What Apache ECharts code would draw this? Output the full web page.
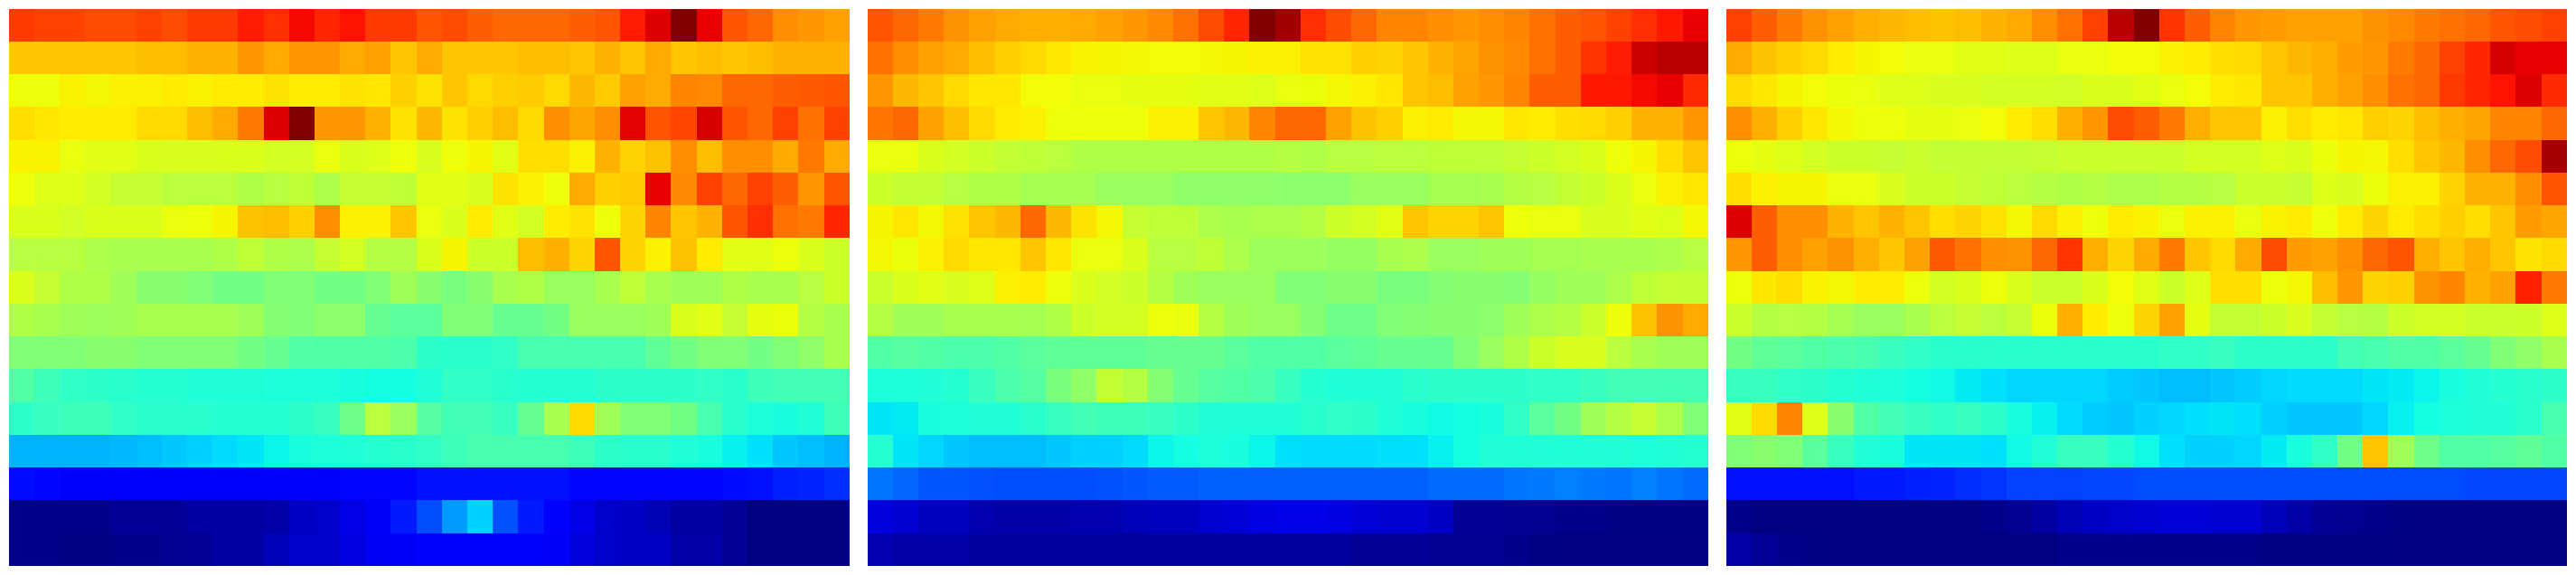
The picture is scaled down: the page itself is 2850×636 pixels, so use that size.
<!DOCTYPE html>
<html>
<head>
<meta charset="utf-8">
<script src="https://cdn.jsdelivr.net/npm/echarts@6/dist/echarts.min.js"></script>
<style>html,body{margin:0;padding:0;background:#fff}#c{width:2850px;height:636px}#c svg *{shape-rendering:crispEdges}</style>
</head>
<body>
<div id="c"></div>
<script>
const panelLeft = [
[85,84,84,83,83,84,83,85,85,88,86,90,87,89,85,85,82,83,81,80,80,80,81,82,88,92,100,91,82,80,76,75,74],
[70,70,70,70,70,71,71,72,72,75,73,75,75,73,74,70,73,70,70,70,71,71,70,72,70,73,70,71,70,71,72,72,72],
[63,63,65,64,65.5,65.5,66,65,66,66,67,66,66,67,66.5,69,67,70,68,69,69.5,68,71.5,69.5,74,73,77,76.5,80,80,81,81.5,82],
[67.5,66.5,66,66,66,68,68,71,73,78,92,100,75,75,72,67,71.5,67,69,71,68,76,73.5,76,91.5,82,83.5,92.5,82,80,84,79,84],
[65,65,62,61,61,60,59.5,59.5,60,60,59,59,62,60,60.5,63,59.5,63,64.5,61,67.5,67.5,65.5,72,68.5,70.5,76,71,76,76,73,78,73],
[63,60.5,60.5,59,57,57,55.5,55.5,55.5,54,55,56,53.5,57,57,56,61,61,59.5,67,65.5,63,73,69,69.5,91,76.5,84,80,84,81,75,82],
[60,60,58.5,60,60,60,62,63,64.5,70.5,71,69,76,65.5,65.5,70,62,60,66,61,59,66,67,63,68.5,77,70,72,82,86,79,78,87],
[55,55,55,53.5,53,53,53,53,54,56,54,53.5,57,59,54.5,54.5,60,64.5,58,58,71,72.5,68.5,82,68.5,65.5,70.5,66,61,61,63,60,58],
[60,57,54,54,52,49,49,48,47,47,48,48,47,47,48,52,49,47.5,49,53,54,51,51,53,56,53,52,52,54,53,53,55,58],
[54,53,52,51.5,52,53,53,53,53,52,48.5,48,49.5,49.5,46,45,45,48,48,46,46,47,51,51,51,52,60,61,57,61.5,62.5,54.5,53],
[48,48,48,49,49,48,48,48,48,47,46,44,44,44,44,43.5,40.5,40,40,41,43,43,43,43,43,45.5,47,48,48,47,48,50,53],
[44,42,41,40.5,40,39.5,39.5,39,39,39,38.5,38.5,38.5,38,37.5,37.5,39,41,41,40,39.5,39.5,39.5,40.5,40.5,40.5,40.5,41,40,42,42.5,42.5,42.5],
[40.5,41.5,42,42,41,40,40,40,39.5,39.5,39.5,40.5,41.5,46.5,55.5,51,44.5,42.5,42.5,41.5,46,53,68,52,48,48,47,43,40,38.5,38,39,42],
[30,30,30,30,30.5,31,32,33,34,35,36.5,38,38.5,39,39.5,40,41,42,43,43,43,43,42,40.5,40,40,39,38,36,34.5,32,31,30],
[13.5,13,12.5,12.5,12,12,12,12,12,12,12,12,12,13,13,13,14,14,14,14,14,14,13,13,13,13,13,13,13.5,14,15.5,16,17],
[1,1,1,1,2,2,2,3,3,3,3.5,6,6.5,9,10.5,15,20,27.5,33,20.5,15,11,9,6.5,6,4.5,3,3,2,0,0,0,0],
[1,1,0.5,0.5,1,1,1.5,2,3,3,5,6.5,6.5,8.5,10,10.5,12,12,12,12,11.5,10.5,8,6.5,6,6,3.5,3.5,2,0,0,0,0]
];
const panelMiddle = [
[82,80,78,75.5,74,73,72.5,72.5,73,74,75,76.5,79,83,87,100,97,86,83,80,77,77,76,75,76,77,79,81,82,84,86,88.5,91],
[79,76,74,73,71,69,68,66.5,65,64.5,64,63.5,63.5,64,64.5,65.5,65.5,67,67,69,68.5,70,72,73.5,75.5,76.5,79,81,85.5,88,93.5,95,95],
[75,71.5,70,68,66.5,66.5,63.5,63.5,62,62,61.5,61.5,61.5,61,61,60.5,62,62.5,64,65.5,66.5,70,71,74,75,77,81,81,88.5,88.5,90,91,86.5],
[78.5,80,74,71,68,66,65.5,63,63,63,63,65.5,65.5,70,71.5,77,80,80,74,70.5,69,65.5,66,64,64,66.5,66,67.5,68,69,72,72,75],
[62,62,60,59,58,56.5,56,55.5,54,54,54,54,54,54,54,54,54.5,54,55,55,55.5,55.5,56,56,56,57,58,59,60,63,64.5,67.5,70],
[58,56.5,56.5,55,54,54,52.5,52.5,52.5,51,51,51,50,50,50,50,49.5,49.5,49.5,51,51,51,52.5,52.5,53,54.5,55,56.5,58,60,62,65.5,66.5],
[64.5,66.5,64,67,70,71.5,80,71.5,67,64,57,56,56,53.5,53,53.5,53.5,54.5,58,59,61,70,68.5,68.5,70,63,62,62,59.5,59.5,61,60.5,64],
[64,62.5,65.5,68,66.5,66.5,70,66.5,62,62,60,55,55,56,53.5,51.5,51.5,51.5,50.5,50.5,53,53.5,51,51,52,52,52.5,52.5,53,53,53,53.5,55],
[57.5,60,61,59.5,60.5,65.5,66,63,60,58.5,58,54.5,52,51,51,51,48,48,49,49,47.5,47.5,48.5,49,49,48.5,50.5,52,52,53.5,56,57,56.5],
[54.5,52,52,53,53,53,52.5,54,58,59,59,63,62,54.5,52,51,51,48.5,46.5,46.5,48,48.5,49,49,49.5,52,53.5,54.5,57.5,63,70.5,75.5,73],
[44,44.5,44,43.5,43.5,44,45,45.5,45.5,45.5,45.5,46,46,46,45,44,44,44,45,45.5,46,46,46,48,51,54,58,59.5,59.5,55.5,53,52,52],
[38.5,38.5,39,39.5,41.5,43.5,44.5,47.5,50,56.5,54.5,48.5,46,44.5,44,43.5,41.5,39.5,39,39,39,40,40.5,40.5,40.5,40.5,41,41,41.5,42.5,42.5,42.5,42.5],
[35,35.5,38,38.5,39,39,40,41.5,42.5,42,42,41.5,40.5,39,39,39,39,40,41,40.5,39,38,37,37.5,38,41,45,47,52,54.5,57,53.5,48],
[39.5,35,33.5,32,31,31,31,32,33,33,34,36.5,37.5,38.5,38,36.5,34.5,34,34,34,34.5,34.5,36,37.5,39,39,39,39,39,39,38.5,39,39.5],
[24,22.5,21,21,20.5,20,20,20,20,20.5,21,21.5,21.5,22,22,22,22,22,22,22,22,22,23,23,23,24,24.5,25,24.5,24,25,24,23],
[8,7,5.5,5.5,4,3.5,3.5,3.5,4,4,5,5.5,5.5,7,7.5,8.5,9,9,8.5,7.5,7,7,6,2,2,1.5,1.5,1,1,0.5,0.5,0.5,0.5],
[4,3.5,3.5,3.5,2.5,2.5,2.5,2.5,2.5,2.5,2.5,2.5,2.5,2.5,2.5,2.5,2.5,2.5,2.5,2,2,2,1.5,1.5,1.5,1,0.5,0,0,0,0,0,0]
];
const panelRight = [
[84,81,78,75.5,74,72.5,71.5,71,70.5,71,72,73,76,79,84,95,100,85.5,81,77,75,74.5,74,74,74,75.5,76.5,78,79,80,82,83,84],
[73,70.5,69,68,66,64.5,63.5,62,62,61,61,60.5,60.5,62,62,63.5,63.5,65.5,66,67.5,68,70,71.5,72.5,74.5,75,78,80,84,87,92.5,91,91],
[68,66.5,64.5,63.5,62.5,62,60.5,60.5,59.5,59.5,59,59,59,58.5,60,60,61,62,63.5,66,66.5,70,70,72.5,74,76,79,80,85,87,89,92,86.5],
[76,72.5,69,66.5,64,63,63,61.5,61.5,62,63.5,66,67.5,72.5,75,83,81,78,72.5,70,70,65.5,67.5,66,66.5,69,68.5,71,72.5,73.5,77,77,80],
[63,61.5,60.5,59,58,58,57,57.5,56.5,56.5,56.5,56.5,57,57.5,57.5,57.5,57.5,57.5,59,59,59,60.5,60,62.5,64.5,64,67.5,70,71.5,76,80,83,96.5],
[67.5,65.5,64.5,64.5,62,62,59.5,58,58,57,56,55.5,54.5,54,54.5,53.5,53.5,54.5,54.5,55,57.5,57.5,57,60.5,59.5,62.5,65.5,65.5,68.5,72,72,76,82],
[92,81,76,76,72,70,72,70,67.5,68.5,67,64,68,65.5,63,66,65,62,65.5,65.5,62,65,66,63,66,68.5,66,67.5,69,67.5,70,74.5,73.5],
[75,81,76,74,75.5,72.5,70,74,81.5,79,76,75.5,80,85.5,72.5,68.5,73,78,70,68,73,83,74.5,74,76,80,82,72.5,70,72.5,70,67,68],
[63,66.5,67.5,65,64,66,66,63,59,60,63,60,57.5,57.5,60,63.5,61,58,60.5,67.5,67.5,63,64,71,75,68.5,69,75.5,77,72,74,87.5,78],
[57.5,54.5,55,54.5,52.5,51,51,53,55.5,57,55.5,57,62.5,72.5,66,63,68.5,74,61.5,56.5,56.5,58,59.5,56.5,55,54.5,58,59,59,57.5,57.5,58,60.5],
[47,45.5,45,44,43.5,43,41.5,41,40,40,40,40,40,40,40,40,40,41,41,41.5,40.5,40.5,40.5,40.5,42.5,43,44,44,45,46,48,50,53],
[41.5,41.5,41,40.5,39.5,39,38.5,37.5,37,35.5,34.5,33.5,33.5,33.5,33.5,32.5,32,31,31,32,32.5,33.5,34,34,34,35,35.5,36.5,38,39,39.5,40,40.5],
[61,68,77,60.5,49,44,42.5,41.5,41,41.5,40.5,38,36,34,32.5,32,33,33.5,34.5,35,34.5,33,32,32,32,33.5,36,37.5,38.5,39,39,40,43],
[48,49,48,45,41.5,39,38,35,35,35,34.5,37,39,41.5,41.5,39.5,37,34.5,33,33,33.5,35.5,38,41,47,70,52,46.5,44,44,44.5,45.5,44],
[14,14,14,14,14,15,15,15.5,16,17,17.5,19,19,19,19.5,19.5,20,20,20,20,20,20,20,20,20,20,20,20,20,19.5,19.5,19.5,19.5],
[1,0,0,0,0,0,0,0,0,0,1,1.5,3,4.5,6,6.5,7,7.5,7.5,7,7,5,3.5,2,1.5,1,0.5,0,0,0,0,0,0],
[3.5,2,1,0.5,0,0,0,0,0,0,0,0,0,1,1,1,1,1,1,1,1,0.5,0.5,0.5,0.5,0.5,0,0,0,0,0,0,0]
];
const panels = [panelLeft, panelMiddle, panelRight];

// matplotlib "jet" colour ramp, sampled for the visual map
function ramp(points, v) {
  for (let i = 1; i < points.length; i++) {
    if (v <= points[i][0]) {
      const a = points[i - 1], b = points[i];
      return a[1] + (b[1] - a[1]) * (v - a[0]) / (b[0] - a[0]);
    }
  }
  return points[points.length - 1][1];
}
const R = [[0,0],[0.35,0],[0.66,1],[0.89,1],[1,0.5]];
const G = [[0,0],[0.125,0],[0.375,1],[0.64,1],[0.91,0],[1,0]];
const B = [[0,0.5],[0.11,1],[0.34,1],[0.65,0],[1,0]];
// where each reading on the value scale falls along the jet ramp
const scaleToRamp = [[0,0],[41,41],[43,43.7],[45.5,46.7],[48,50.5],[54.5,56.9],[59,60.8],[62,63.2],[64,64.7],[65.5,65.5],[100,100]];
const jet = [];
for (let i = 0; i <= 200; i++) {
  const v = ramp(scaleToRamp, i / 2) / 100;
  jet.push('rgb(' + [R, G, B].map(c => Math.round(ramp(c, v) * 255)).join(',') + ')');
}

const columnCount = panelLeft[0].length;
const rowCount = panelLeft.length;
const idx = n => Array.from({length: n}, (_, i) => i);

const chart = echarts.init(document.getElementById('c'), null, {renderer: 'svg'});
chart.setOption({
  animation: false,
  backgroundColor: '#ffffff',
  grid: panels.map((_, i) => ({left: 10 + i * 950, top: 10, width: 930, height: 616, containLabel: false})),
  xAxis: panels.map((_, i) => ({type: 'category', gridIndex: i, data: idx(columnCount), show: false})),
  yAxis: panels.map((_, i) => ({type: 'category', gridIndex: i, data: idx(rowCount), inverse: true, show: false})),
  visualMap: {type: 'continuous', min: 0, max: 100, show: false, seriesIndex: [0, 1, 2], dimension: 2, inRange: {color: jet}},
  series: panels.map((rows, i) => ({
    type: 'heatmap',
    xAxisIndex: i,
    yAxisIndex: i,
    progressive: 0,
    data: rows.flatMap((row, y) => row.map((value, x) => [x, y, value]))
  }))
});
</script>
</body>
</html>
